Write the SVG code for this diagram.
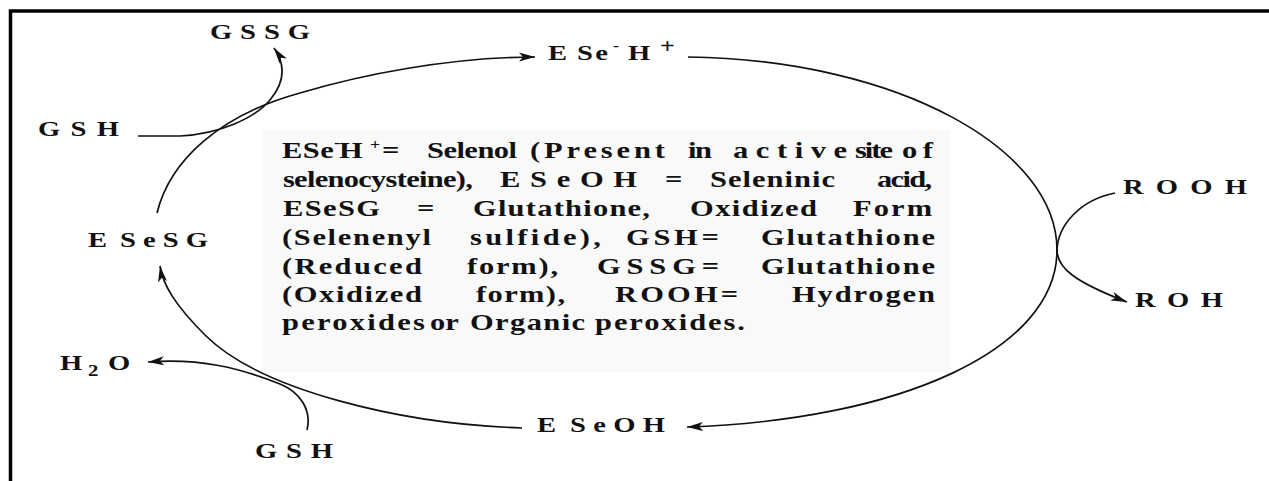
<svg xmlns="http://www.w3.org/2000/svg" width="1269" height="481" viewBox="0 0 1269 481">
<style>
text{font-family:"Liberation Serif","Times New Roman",serif;font-weight:bold;fill:#111}
.lbl{font-size:22px}
.p{font-size:24px}
.sup{font-size:14px}
.con{fill:none;stroke:#111;stroke-width:1.7}
</style>
<defs>
<marker id="ah" markerUnits="userSpaceOnUse" markerWidth="18" markerHeight="12" refX="16" refY="6" orient="auto">
<path d="M0,1.5 L16,6 L0,10.5 L4,6 z" fill="#111"/>
</marker>
</defs>
<rect width="1269" height="481" fill="#fff"/>
<g id="frame" fill="none" stroke="#000" stroke-width="3.5">
<path d="M10.5,481 V11 H1269"/>
</g>
<rect id="legend-bg" x="263" y="130" width="687" height="242" fill="#f9f9f9"/>

<g id="connectors" class="con">
<path marker-end="url(#ah)" d="M688,57 C900,60 1057,150 1057,250 C1057,350 900,420 687,427"/>
<path marker-end="url(#ah)" d="M522,428 C400,424 260,390 205,335 C175,305 163,285 160,266"/>
<path marker-end="url(#ah)" d="M157,213 C170,160 220,115 300,93 C360,75 450,57 535,57"/>
<path marker-end="url(#ah)" d="M138,136 L180,136 C220,134 255,118 270,100 C285,82 286,65 274,48"/>
<path marker-end="url(#ah)" d="M1115,193 C1080,200 1058,225 1057,250 C1057,268 1075,282 1127,302"/>
<path marker-end="url(#ah)" d="M307,430 C312,410 300,392 280,384 C240,368 200,358 148,362"/>
</g>

<g id="node-GSSG" transform="scale(1.3,1)"><text class="lbl" x="161.5" y="39" textLength="76.9">GSSG</text></g>
<g id="node-GSH-top" transform="scale(1.3,1)"><text class="lbl" x="29.2" y="136" textLength="62.3">GSH</text></g>
<g id="node-ESeH" transform="scale(1.3,1)">
<text class="lbl" x="421.5" y="60">E</text>
<text class="lbl" x="443.8" y="60" textLength="23.8">Se</text>
<text class="sup" x="471.5" y="50">-</text>
<text class="lbl" x="483.1" y="60">H</text>
<text x="507.7" y="53" style="font-size:20px">+</text>
</g>
<g id="node-ROOH" transform="scale(1.3,1)"><text class="lbl" x="863.8" y="194" textLength="95.4">ROOH</text></g>
<g id="node-ROH" transform="scale(1.3,1)"><text class="lbl" x="873.1" y="307" textLength="67.7">ROH</text></g>
<g id="node-ESeOH" transform="scale(1.3,1)">
<text class="lbl" x="413.1" y="432">E</text>
<text class="lbl" x="438.5" y="432" textLength="73.1">SeOH</text>
</g>
<g id="node-ESeSG" transform="scale(1.3,1)">
<text class="lbl" x="67.7" y="247">E</text>
<text class="lbl" x="92.3" y="247" textLength="67.7">SeSG</text>
</g>
<g id="node-H2O" transform="scale(1.3,1)">
<text class="lbl" x="46.2" y="370">H</text>
<text x="67.7" y="376" style="font-size:16px">2</text>
<text class="lbl" x="83.1" y="370">O</text>
</g>
<g id="node-GSH-bottom" transform="scale(1.3,1)"><text class="lbl" x="196.2" y="458" textLength="60">GSH</text></g>

<g id="legend" class="p" transform="scale(1.27,1)">
<text x="222" y="158" textLength="40.9">ESe</text>
<text class="sup" x="263" y="147">-</text>
<text x="266.9" y="158">H</text>
<text class="sup" x="291.3" y="149">+</text>
<text x="300.8" y="158">=</text>
<text x="336.2" y="158" textLength="70.9">Selenol</text>
<text x="417.3" y="158" textLength="106.3">(Present</text>
<text x="541.7" y="158" textLength="18.9">in</text>
<text x="577.2" y="158" textLength="89.8">active</text>
<text x="673.2" y="158" textLength="29.9">site</text>
<text x="710.2" y="158" textLength="24.4">of</text>

<text x="222.8" y="187" textLength="149.6">selenocysteine),</text>
<text x="393.7" y="187" textLength="107.9">ESeOH</text>
<text x="523.6" y="187">=</text>
<text x="559.1" y="187" textLength="98.4">Seleninic</text>
<text x="690.6" y="187" textLength="43.3">acid,</text>

<text x="222.8" y="216" textLength="76.4">ESeSG</text>
<text x="328.3" y="216">=</text>
<text x="372.4" y="216" textLength="139.4">Glutathione,</text>
<text x="543.3" y="216" textLength="100">Oxidized</text>
<text x="671.7" y="216" textLength="62.2">Form</text>

<text x="222" y="245" textLength="117.3">(Selenenyl</text>
<text x="370.1" y="245" textLength="103.1">sulfide),</text>
<text x="492.9" y="245" textLength="73.2">GSH=</text>
<text x="599.2" y="245" textLength="137">Glutathione</text>

<text x="222" y="274" textLength="110.2">(Reduced</text>
<text x="367.7" y="274" textLength="71.7">form),</text>
<text x="470.1" y="274" textLength="96.1">GSSG=</text>
<text x="599.2" y="274" textLength="137">Glutathione</text>

<text x="222" y="302" textLength="110.2">(Oxidized</text>
<text x="374.8" y="302" textLength="70.1">form),</text>
<text x="484.3" y="302" textLength="96.9">ROOH=</text>
<text x="623.6" y="302" textLength="112.6">Hydrogen</text>

<text x="222" y="330" textLength="112.6">peroxides</text>
<text x="338.6" y="330">or</text>
<text x="370.1" y="330" textLength="90.6">Organic</text>
<text x="468.5" y="330" textLength="118.1">peroxides.</text>
</g>
</svg>
